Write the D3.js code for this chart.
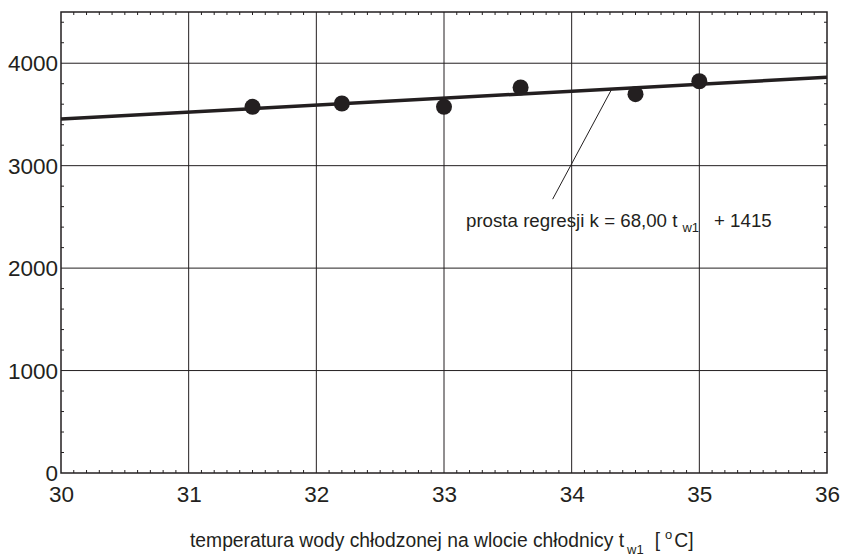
<!DOCTYPE html>
<html><head><meta charset="utf-8">
<script src="https://cdn.jsdelivr.net/npm/d3@7"></script>
<style>
html,body{margin:0;padding:0;background:#fff;}
text{font-family:"Liberation Sans",Arial,sans-serif;fill:#231f20;}
</style></head>
<body><svg id="c" width="845" height="556"></svg>
<script>
const xPoints = [31.5, 32.2, 33.0, 33.6, 34.5, 35.0];
const yPoints = [3574, 3607, 3574, 3763, 3698, 3824];
const xTicks = [30, 31, 32, 33, 34, 35, 36];
const yTicks = [0, 1000, 2000, 3000, 4000];
const regSlope = 68.00;
const regIntercept = 1415;
const regRange = [30, 36];
const annotationText = "prosta regresji k = 68,00 t";
const annotationSub = "w1";
const annotationTail = "+ 1415";
const xLabelText = "temperatura wody chłodzonej na wlocie chłodnicy t";

const svg = d3.select("#c");
const L = 61, R = 827, T = 12, B = 473;
const x = d3.scaleLinear().domain([30, 36]).range([L, R]);
const y = d3.scaleLinear().domain([0, 4500]).range([B, T]);
const ink = "#231f20";

// grid
const g = svg.append("g");
g.selectAll(".gx").data(xTicks.slice(1, -1)).join("line")
  .attr("x1", d => x(d)).attr("x2", d => x(d)).attr("y1", T).attr("y2", B)
  .attr("stroke", ink).attr("stroke-width", 1);
g.selectAll(".gy").data(yTicks.slice(1)).join("line")
  .attr("y1", d => y(d)).attr("y2", d => y(d)).attr("x1", L).attr("x2", R)
  .attr("stroke", ink).attr("stroke-width", 1);

// minor ticks (inward)
const minorX = d3.range(301, 360).map(v => v / 10).filter(v => Math.abs(v - Math.round(v)) > 1e-6);
const minorY = d3.range(200, 4500, 200).filter(v => v % 1000 !== 0);
g.selectAll(".mxb").data(minorX).join("line")
  .attr("x1", d => x(d)).attr("x2", d => x(d)).attr("y1", B).attr("y2", B - 3)
  .attr("stroke", ink).attr("stroke-width", 1);
g.selectAll(".mxt").data(minorX).join("line")
  .attr("x1", d => x(d)).attr("x2", d => x(d)).attr("y1", T).attr("y2", T + 3)
  .attr("stroke", ink).attr("stroke-width", 1);
g.selectAll(".myl").data(minorY).join("line")
  .attr("y1", d => y(d)).attr("y2", d => y(d)).attr("x1", L).attr("x2", L + 3)
  .attr("stroke", ink).attr("stroke-width", 1);
g.selectAll(".myr").data(minorY).join("line")
  .attr("y1", d => y(d)).attr("y2", d => y(d)).attr("x1", R).attr("x2", R - 3)
  .attr("stroke", ink).attr("stroke-width", 1);

// frame
svg.append("rect").attr("x", L).attr("y", T).attr("width", R - L).attr("height", B - T)
  .attr("fill", "none").attr("stroke", ink).attr("stroke-width", 1.5);

// axes labels via d3 axes
const xAxis = svg.append("g").attr("transform", `translate(0,${B})`)
  .call(d3.axisBottom(x).tickValues(xTicks).tickSize(0).tickPadding(13).tickFormat(d3.format("d")));
xAxis.select(".domain").remove();
xAxis.selectAll("text").attr("font-size", 22.5).attr("font-family", "Liberation Sans, Arial, sans-serif").attr("fill", ink);

const yAxis = svg.append("g").attr("transform", `translate(${L},0)`)
  .call(d3.axisLeft(y).tickValues(yTicks).tickSize(0).tickPadding(3).tickFormat(d3.format("d")));
yAxis.select(".domain").remove();
yAxis.selectAll("text").attr("font-size", 22.5).attr("font-family", "Liberation Sans, Arial, sans-serif").attr("fill", ink)
  .attr("dy", "0.34em");

// regression line
svg.append("line")
  .attr("x1", x(regRange[0])).attr("y1", y(regSlope * regRange[0] + regIntercept))
  .attr("x2", x(regRange[1])).attr("y2", y(regSlope * regRange[1] + regIntercept))
  .attr("stroke", ink).attr("stroke-width", 3.5);

// points
svg.selectAll(".pt").data(xPoints).join("circle")
  .attr("cx", d => x(d)).attr("cy", (d, i) => y(yPoints[i])).attr("r", 8).attr("fill", ink);

// leader line
svg.append("line")
  .attr("x1", x(34.31)).attr("y1", y(regSlope * 34.31 + regIntercept) + 1)
  .attr("x2", x(33.851)).attr("y2", y(2673))
  .attr("stroke", ink).attr("stroke-width", 1);

// annotation
const ann = svg.append("text").attr("x", 466).attr("y", 227).attr("font-size", 18.7);
ann.append("tspan").text(annotationText);
ann.append("tspan").attr("font-size", 13).attr("dx", 5).attr("dy", 5).text(annotationSub);
ann.append("tspan").attr("dx", 15).attr("dy", -5).text(annotationTail);

// x label
const xl = svg.append("text").attr("x", 190).attr("y", 547).attr("font-size", 19.3);
xl.append("tspan").text(xLabelText);
xl.append("tspan").attr("font-size", 13).attr("dx", 3).attr("dy", 7).text("w1");
xl.append("tspan").attr("dx", 11).attr("dy", -7).text("[");
xl.append("tspan").attr("font-size", 13).attr("dx", 5).attr("dy", -8).text("o");
xl.append("tspan").attr("dx", 2).attr("dy", 8).text("C]");
</script></body></html>
